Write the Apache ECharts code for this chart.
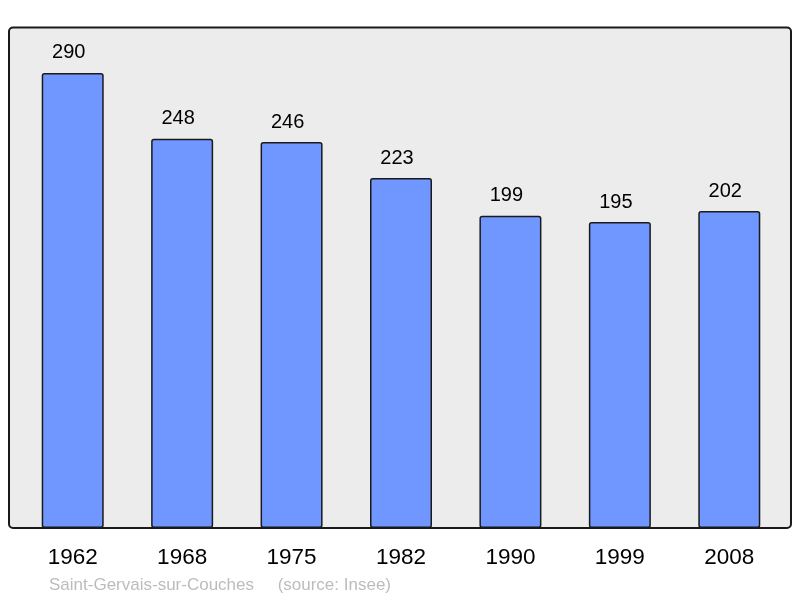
<!DOCTYPE html>
<html>
<head>
<meta charset="utf-8">
<script src="https://cdn.jsdelivr.net/npm/echarts@6/dist/echarts.min.js"></script>
<style>
  html, body { margin: 0; padding: 0; background: #fff; }
  #chart { width: 800px; height: 598px; }
</style>
</head>
<body>
<div id="chart"></div>
<script>
var years = ['1962', '1968', '1975', '1982', '1990', '1999', '2008']
var population = [290, 248, 246, 223, 199, 195, 202]
var footer = 'Saint-Gervais-sur-Couches     (source: Insee)'

var chart = echarts.init(document.getElementById('chart'))
chart.setOption({
  animation: false,
  textStyle: { fontFamily: 'Liberation Sans, Arial, sans-serif' },
  grid: { left: 18, right: 16, top: 27, bottom: 70 },
  graphic: [
    {
      type: 'rect',
      z: -10,
      shape: { x: 9, y: 27.5, width: 782, height: 500.5, r: 4 },
      style: { fill: '#ececec', stroke: '#1a1a1a', lineWidth: 2 }
    },
    {
      type: 'text',
      left: 49,
      top: 577,
      style: {
        text: footer,
        fill: '#bcbcbc',
        font: '17px Liberation Sans, Arial, sans-serif'
      }
    }
  ],
  xAxis: {
    type: 'category',
    data: years,
    axisLine: { show: false },
    axisTick: { show: false },
    axisLabel: { color: '#000', fontSize: 22.5, margin: 18 }
  },
  yAxis: {
    type: 'value',
    min: 0,
    max: 319.3,
    show: false,
    splitLine: { show: false }
  },
  series: [{
    type: 'bar',
    data: population,
    barWidth: 62,
    itemStyle: {
      color: '#7097ff',
      borderColor: '#1a1a1a',
      borderWidth: 1.5,
      borderRadius: 2
    },
    label: {
      show: true,
      position: 'top',
      distance: 10,
      offset: [-4, 0],
      color: '#000',
      fontSize: 20
    }
  }]
})
</script>
</body>
</html>
